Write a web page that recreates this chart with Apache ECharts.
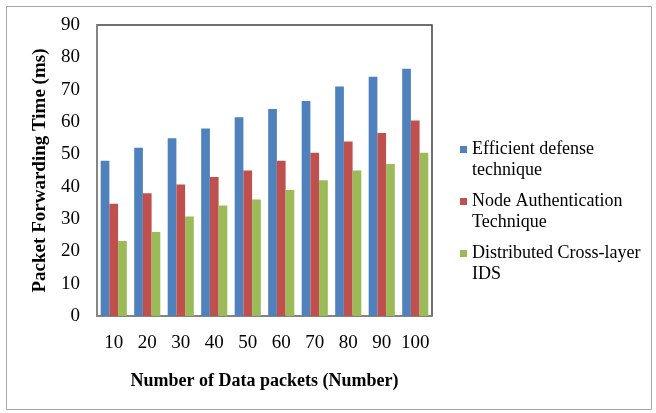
<!DOCTYPE html>
<html>
<head>
<meta charset="utf-8">
<script src="https://cdn.jsdelivr.net/npm/echarts@6/dist/echarts.min.js"></script>
<style>
  html, body { margin: 0; padding: 0; background: #fff; }
  #chart { width: 656px; height: 413px; }
</style>
</head>
<body>
<div id="chart"></div>
<script>
const packets = ['10', '20', '30', '40', '50', '60', '70', '80', '90', '100']
const efficientDefense = [48, 52, 55, 58, 61.5, 64, 66.5, 71, 74, 76.5]
const nodeAuth = [34.7, 38, 40.7, 43, 45, 48, 50.5, 54, 56.6, 60.5]
const crossLayerIds = [23.2, 26, 30.8, 34.2, 36, 39, 42, 45, 47, 50.5]
const yTicks = { min: 0, max: 90, interval: 10 }

const serif = 'Liberation Serif'
const chart = echarts.init(document.getElementById('chart'))

const seriesDefs = [
  { name: 'Efficient defense\ntechnique', data: efficientDefense, color: '#4f81bd' },
  { name: 'Node Authentication\nTechnique', data: nodeAuth, color: '#c0504d' },
  { name: 'Distributed Cross-layer\nIDS', data: crossLayerIds, color: '#9bbb59' }
]

chart.setOption({
  animation: false,
  graphic: [{
    type: 'rect',
    shape: { x: 6.5, y: 6.5, width: 645, height: 403 },
    style: { fill: 'none', stroke: '#a6a6a6', lineWidth: 1 },
    silent: true
  }],
  grid: {
    left: 97,
    right: 224,
    top: 25,
    bottom: 97,
    show: true,
    borderColor: '#404040',
    borderWidth: 1.5
  },
  legend: {
    orient: 'vertical',
    left: 455,
    top: 113,
    itemWidth: 7,
    itemHeight: 7,
    itemGap: -11,
    icon: 'rect',
    data: seriesDefs.map(s => s.name),
    // blank first line so the marker lines up with the first text line
    formatter: name => ' \n' + name,
    textStyle: {
      fontFamily: serif,
      fontSize: 18,
      color: '#000',
      lineHeight: 21
    }
  },
  xAxis: {
    type: 'category',
    data: packets,
    name: 'Number of Data packets (Number)',
    nameLocation: 'middle',
    nameGap: 56,
    nameTextStyle: { fontFamily: serif, fontSize: 18, fontWeight: 'bold', color: '#000' },
    axisLine: { lineStyle: { color: '#8c8c8c', width: 1.5 } },
    axisTick: { show: false },
    axisLabel: { interval: 0, fontFamily: serif, fontSize: 19, color: '#000', margin: 18 }
  },
  yAxis: {
    type: 'value',
    min: yTicks.min,
    max: yTicks.max,
    interval: yTicks.interval,
    name: 'Packet Forwarding Time (ms)',
    nameLocation: 'middle',
    nameGap: 47,
    nameTextStyle: { fontFamily: serif, fontSize: 19, fontWeight: 'bold', color: '#000' },
    axisLine: { show: true, lineStyle: { color: '#8c8c8c', width: 1.5 } },
    axisTick: { show: false },
    splitLine: { show: false },
    axisLabel: { fontFamily: serif, fontSize: 19, color: '#000', margin: 17 }
  },
  series: seriesDefs.map(s => ({
    name: s.name,
    type: 'bar',
    data: s.data,
    barGap: '0%',
    barCategoryGap: '22%',
    itemStyle: { color: s.color }
  }))
})
</script>
</body>
</html>
